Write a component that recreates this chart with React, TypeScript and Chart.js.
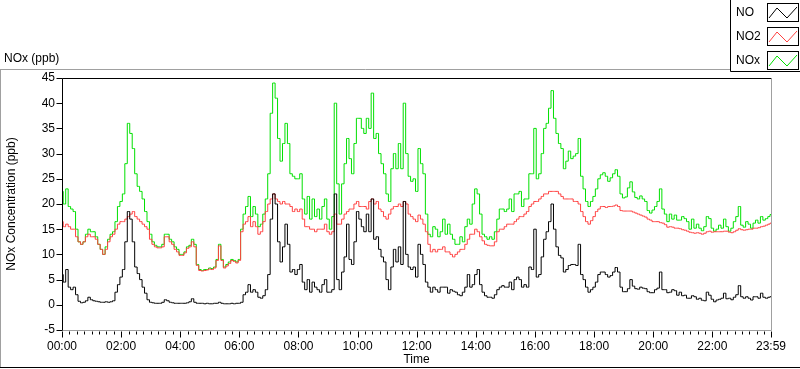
import React, { useEffect, useRef } from "react";
import { Chart, registerables } from "chart.js";
Chart.register(...registerables);

// 5-minute samples, 00:00 .. 23:55, plus 23:59
const NO: number[] = [
  6, 4.5, 7, 3.5, 3, 3.5, 2, 0.7, 0.4, 0.5, 0.8, 1.5,
  1, 0.8, 0.7, 0.6, 0.5, 0.5, 0.6, 0.5, 0.6, 0.8, 2.5, 4,
  5.5, 7, 12.5, 18.5, 17, 12.5, 7.5, 6.2, 5, 3.5, 2.3, 1,
  0.5, 0.4, 0.3, 0.3, 0.3, 0.5, 1, 0.8, 0.5, 0.4, 0.3, 0.3,
  0.3, 0.3, 0.3, 0.4, 0.6, 1.2, 0.5, 0.3, 0.3, 0.3, 0.2, 0.3,
  0.2, 0.2, 0.3, 0.3, 0.5, 0.3, 0.2, 0.2, 0.2, 0.3, 0.2, 0.3,
  0.3, 0.5, 2, 2.5, 4, 2.5, 3, 2.5, 1.5, 1.3, 1.8, 3,
  6, 17, 22, 20, 12.5, 8.5, 11.5, 16, 12, 6.5, 7, 6,
  7,
  8, 4.5, 3, 5, 2.5, 4.5, 3.5, 3, 2.5, 4, 5, 2.5,
  2.5, 3, 22, 5, 3, 6.5, 9.5, 16, 9, 8, 12.5, 18.5,
  17, 15.5, 14.5, 18, 14.5, 21, 13, 13.5, 11, 9.5, 8.5, 5,
  3, 7.5, 11, 8.5, 11.5, 8, 20.5, 10, 7.5, 7, 7.5, 5.5,
  12, 10, 8, 4.5, 3.5, 2.5, 3.5, 3, 2.5, 3.5, 3.5, 3.5,
  2.3, 3, 2.7, 2.5, 2, 1.8, 2.5, 3.5, 6, 3.5, 4, 6,
  7, 4, 2.5, 1.8, 1.5, 1.5, 1.3, 2, 3, 3.5, 3.8, 3.5,
  3.5, 4.5, 3, 5, 5.5, 5, 3.5, 4, 3.5, 7.5, 7, 15,
  5.5, 6, 9.5, 13, 14.5, 16.5, 20, 15, 11.5, 9.8, 9.3, 6.5,
  7, 7.8, 8, 8, 7.8, 12, 6, 5, 3.5, 2.5, 3, 3.5,
  4.5, 6, 6.5, 6.5, 6, 5.5, 5.8, 6.5, 7.4, 6.5, 3.5, 2.6,
  2.6, 3.2, 5, 3.7, 3.2, 3.1, 3.5, 3.3, 3.2, 2.6, 2.4, 2.4,
  3, 3.3, 6.5, 3, 3, 2.4, 2.5, 3, 2.8, 1.9, 2.5, 1.8,
  1.9, 1.3, 1.3, 1.8, 1.6, 1.1, 1.3, 0.9, 0.8, 2.5, 1.9, 1.1,
  0.6, 0.95, 1.1, 1.3, 2.3, 1.2, 1.3, 1, 1.5, 2, 3.8, 1.6,
  1.3, 1.6, 1.3, 0.95, 1.6, 1.6, 1.3, 2.3, 1.5, 1.3, 1.5, 1.6,
];

const NO2: number[] = [
  16.5, 15.5, 16, 15.5, 15, 15, 13.5, 12.5, 12, 12.5, 13.5, 14,
  13.5, 13.5, 13, 12, 11, 10, 11, 12.5, 13.5, 14, 15, 16,
  16.5, 16.5, 17, 17.5, 18, 18.5, 17.5, 17, 16.5, 16, 15.5, 15,
  13, 12, 11.5, 11.3, 11.3, 11.5, 13.5, 13.5, 12.5, 12, 11, 10.5,
  9.8, 9.8, 10.3, 11.2, 11.5, 12.5, 11.5, 7.8, 6.8, 6.7, 6.8, 6.9,
  7.1, 7, 7.3, 8.8, 11.7, 8.8, 7.3, 7.7, 8.2, 8.8, 8.6, 8.3,
  8.8, 14.5, 16, 16.5, 17.5, 15.5, 16.5, 15.5, 14, 14.5, 16.5, 18.5,
  20, 21, 22, 21, 20.5, 20, 20.5, 20, 20, 19.5, 18.5, 19,
  18.5,
  19, 17, 15.5, 15.5, 15, 15, 14.5, 15, 15, 15, 16, 14.5,
  14, 14.5, 18, 16, 16, 17, 18, 18.5, 19, 19, 20, 20.5,
  19.5, 19.5, 19.5, 19, 20.5, 21, 20, 20.5, 19, 18.5, 17.5, 17,
  18, 19, 19.5, 19.5, 20, 19.5, 20.5, 20, 18, 17.5, 17, 16.5,
  17.8, 17, 16, 14.5, 12, 10.5, 11, 10.5, 11, 11, 11.5, 10.5,
  10.5, 10, 9.5, 10, 10.5, 11, 11, 12, 13, 14, 14, 15,
  14.5, 13.5, 12.7, 12, 11.8, 11.7, 11.7, 12.5, 14.5, 15, 15, 15.5,
  16, 16, 16, 16.5, 17, 17.5, 17.5, 18, 18.5, 19.5, 20, 20.5,
  20.5, 21, 21.5, 22, 22, 22.5, 22.5, 22.5, 22.5, 22, 21.5, 21,
  21, 21, 21, 20.5, 20.5, 20, 18.5, 17.5, 16.5, 16, 16.7, 17.5,
  18.5, 19, 19.5, 19.5, 19.3, 19.5, 19.5, 19.6, 19.8, 19.5, 18.7, 18.6,
  18.6, 18.6, 18.6, 18.4, 18.2, 18, 17.8, 17.6, 17.4, 17, 16.8, 16.5,
  16.5, 16.5, 16.3, 16.2, 15.9, 15.4, 15.5, 15.4, 15.2, 15.2, 15.1, 14.9,
  14.8, 14.6, 14.4, 14.3, 14.2, 14.3, 14.2, 14, 14.2, 14.5, 14.6, 14.4,
  14.5, 14.5, 14.5, 14.5, 14.6, 14.6, 14.4, 14.3, 14.5, 14.8, 15.1, 14.9,
  14.8, 14.9, 15, 15, 15.2, 15.2, 15.3, 15.5, 15.6, 15.8, 16, 16.2,
];

const NOX: number[] = [
  22.5, 20, 23, 19.5, 19, 18.5, 15, 12.5, 12, 12.5, 14, 15,
  14.5, 14.5, 13.5, 12, 11, 10, 11.5, 13, 14, 14.5, 16.5, 19.5,
  20.5, 22, 28, 36, 34, 31, 26, 23.5, 22.5, 21, 18.5, 16.5,
  14, 12.5, 11.8, 11.5, 11.5, 12, 14, 14, 13, 12.5, 11.5, 11,
  10, 10, 10.5, 11.5, 11.8, 13, 12, 8, 7, 6.8, 7, 7,
  7.3, 7.2, 7.5, 9, 12, 9, 7.5, 8, 8.5, 9, 8.8, 8.5,
  9, 15, 18, 19.5, 21.5, 17.5, 19.5, 18, 15.5, 16, 18, 21,
  26, 38, 44, 41, 33, 28.5, 32, 36, 32, 26, 25.5, 25,
  25,
  26, 21, 18, 21.5, 17, 21, 17.5, 19, 17, 19.5, 21, 17,
  15, 17.5, 40, 24, 18, 24, 28, 33, 29, 26, 32, 37,
  37, 35, 34, 37, 35, 42, 33, 34, 30, 28, 26, 22,
  20.5, 27, 30, 27, 32, 27, 40, 30, 25.5, 24.5, 25, 22.5,
  31, 28, 26, 18, 14, 13.5, 15.5, 15, 13.5, 14.5, 17, 14,
  16, 14, 13, 12, 12, 13.5, 12.5, 15.5, 17, 16, 20, 23,
  22, 18, 14, 13.5, 13, 13.5, 13, 14.5, 17, 19, 19, 18.5,
  19, 21, 18.5, 22, 22, 22.5, 19.5, 21, 21, 26, 26, 35,
  25, 26, 30, 35, 36, 39, 42.5, 37, 34, 32, 31, 27,
  28.5, 30.5, 29, 29.5, 30, 33, 25.5, 23, 20.5, 19.5, 20.5, 21.5,
  23, 25, 25.8, 26.2, 25.5, 24.5, 25.2, 26, 26.8, 25.5, 22, 21.2,
  21.4, 23.2, 24.4, 22.4, 21.3, 21, 21.6, 21, 20.5, 18.7, 18.2, 18.8,
  19.5, 20.5, 23, 19, 18, 16.5, 18, 17, 17.8, 16.8, 16.8, 17.5,
  17.1, 16.5, 15, 17, 15.2, 16, 15.2, 14.7, 15.5, 17.5, 17.1, 15.2,
  14.6, 15, 15.8, 15.2, 17, 15.5, 14.6, 15.2, 16.5, 17.5, 19.5, 15.8,
  15.4, 16.5, 16, 15.2, 16.2, 16.8, 16.2, 17.5, 16.8, 17.1, 17.5, 17.9,
];

const SERIES_NAMES = ["NO", "NO2", "NOx"];
const SERIES_COLORS = ["#000000", "#ff4040", "#00e000"];
const Y_MIN = -5;
const Y_MAX = 45;
const Y_STEP = 5;
const X_MAX = 1439; // 23:59 in minutes
const X_MINOR_STEP = 15;
const X_LABEL_STEP = 120;

const MINUTES = NO.map((_, i) => Math.min(i * 5, X_MAX));
const X_TICKS: number[] = [];
for (let m = 0; m < X_MAX; m += X_MINOR_STEP) X_TICKS.push(m);
X_TICKS.push(X_MAX);

const FONT = "'Liberation Sans', Arial, sans-serif";

function fmt(v: number): string {
  const h = Math.floor(v / 60);
  const m = v % 60;
  return String(h).padStart(2, "0") + ":" + String(m).padStart(2, "0");
}

const overlay = {
  id: "overlay",
  beforeDraw(chart: any) {
    const ctx = chart.ctx;
    ctx.save();
    ctx.fillStyle = "#fff";
    ctx.fillRect(0, 0, chart.width, chart.height);
    ctx.restore();
  },
  afterDraw(chart: any) {
    const ctx = chart.ctx as CanvasRenderingContext2D;
    const a = chart.chartArea;
    const xs = chart.scales.x;
    const ys = chart.scales.y;
    ctx.save();
    ctx.lineWidth = 1;

    // outer frame
    ctx.strokeStyle = "#a0a0a0";
    ctx.beginPath();
    ctx.moveTo(0, 69.5);
    ctx.lineTo(731, 69.5);
    ctx.moveTo(0.5, 69);
    ctx.lineTo(0.5, 368);
    ctx.stroke();
    ctx.strokeStyle = "#000";
    ctx.beginPath();
    ctx.moveTo(0, 367.5);
    ctx.lineTo(800, 367.5);
    ctx.stroke();

    // plot frame
    const L = Math.round(a.left) + 0.5;
    const R = Math.round(a.right) + 0.5;
    const T = Math.round(a.top) + 0.5;
    const B = Math.round(a.bottom) + 0.5;
    ctx.strokeStyle = "#000";
    ctx.beginPath();
    ctx.moveTo(L, B);
    ctx.lineTo(L, T);
    ctx.lineTo(R, T);
    ctx.stroke();
    ctx.strokeStyle = "#a0a0a0";
    ctx.beginPath();
    ctx.moveTo(L, B);
    ctx.lineTo(R, B);
    ctx.lineTo(R, T);
    ctx.stroke();

    // tick marks
    ctx.strokeStyle = "#000";
    ctx.beginPath();
    for (let v = Y_MIN; v <= Y_MAX; v += Y_STEP) {
      const y = Math.round(ys.getPixelForValue(v)) + 0.5;
      ctx.moveTo(L - 6, y);
      ctx.lineTo(L, y);
    }
    for (const v of X_TICKS) {
      const x = Math.round(xs.getPixelForValue(v)) + 0.5;
      const major = v % X_LABEL_STEP === 0 || v === X_MAX;
      ctx.moveTo(x, B + 1);
      ctx.lineTo(x, B + (major ? 7 : 4));
    }
    ctx.stroke();

    // titles
    ctx.fillStyle = "#000";
    ctx.font = `12px ${FONT}`;
    ctx.textBaseline = "middle";
    ctx.textAlign = "left";
    ctx.fillText("NOx (ppb)", 4, 59);
    ctx.textAlign = "center";
    ctx.fillText("Time", (a.left + a.right) / 2, 360);
    ctx.save();
    ctx.translate(12, (a.top + a.bottom) / 2);
    ctx.rotate(-Math.PI / 2);
    ctx.fillText("NOx Concentration (ppb)", 0, 0);
    ctx.restore();

    // legend
    ctx.fillStyle = "#fff";
    ctx.fillRect(731, 0, 69, 71);
    ctx.strokeStyle = "#000";
    ctx.beginPath();
    ctx.moveTo(730.5, 0);
    ctx.lineTo(730.5, 71.5);
    ctx.lineTo(800, 71.5);
    ctx.stroke();
    SERIES_NAMES.forEach((name, i) => {
      const y0 = 3 + i * 24;
      ctx.fillStyle = "#000";
      ctx.textAlign = "left";
      ctx.textBaseline = "middle";
      ctx.font = `12px ${FONT}`;
      ctx.fillText(name, 736, y0 + 10);
      ctx.strokeStyle = "#000";
      ctx.strokeRect(767.5, y0 + 0.5, 31, 18);
      ctx.strokeStyle = SERIES_COLORS[i];
      ctx.beginPath();
      ctx.moveTo(769, y0 + 15);
      ctx.lineTo(777, y0 + 5);
      ctx.lineTo(787, y0 + 15);
      ctx.lineTo(797, y0 + 4);
      ctx.stroke();
    });
    ctx.restore();
  },
};

export default function App() {
  const ref = useRef<HTMLCanvasElement>(null);
  useEffect(() => {
    const seriesData = [NO, NO2, NOX];
    const chart = new Chart(ref.current as HTMLCanvasElement, {
      type: "line",
      data: {
        datasets: seriesData.map((arr, i) => ({
          label: SERIES_NAMES[i],
          data: arr.map((v, j) => ({ x: MINUTES[j], y: v })),
          borderColor: SERIES_COLORS[i],
          backgroundColor: SERIES_COLORS[i],
          borderWidth: 1,
          pointRadius: 0,
          tension: 0,
          stepped: "middle",
          fill: false,
        })),
      },
      options: {
        responsive: false,
        animation: false,
        devicePixelRatio: 1,
        layout: { padding: { left: 0, top: 78, right: 29, bottom: 0 } },
        plugins: { legend: { display: false }, tooltip: { enabled: false } },
        scales: {
          x: {
            type: "linear",
            min: 0,
            max: X_MAX,
            grid: { display: false, drawTicks: false },
            border: { display: false },
            afterFit: (s: any) => {
              s.height = 39;
            },
            afterBuildTicks: (s: any) => {
              s.ticks = X_TICKS.map((v) => ({ value: v }));
            },
            ticks: {
              autoSkip: false,
              maxRotation: 0,
              minRotation: 0,
              padding: 9,
              color: "#000",
              font: { family: FONT, size: 12 },
              callback: (v: any) => {
                const n = Number(v);
                return n % X_LABEL_STEP === 0 || n === X_MAX ? fmt(n) : "";
              },
            },
          },
          y: {
            type: "linear",
            min: Y_MIN,
            max: Y_MAX,
            grid: { display: false, drawTicks: false },
            border: { display: false },
            afterFit: (s: any) => {
              s.width = 62;
            },
            ticks: {
              stepSize: Y_STEP,
              padding: 7,
              color: "#000",
              font: { family: FONT, size: 12 },
            },
          },
        },
      },
      plugins: [overlay],
    } as any);
    return () => chart.destroy();
  }, []);
  return (
    <div style={{ position: "fixed", left: 0, top: 0, width: 800, height: 369, background: "#fff" }}>
      <canvas ref={ref} width={800} height={369} style={{ display: "block", width: 800, height: 369 }} />
    </div>
  );
}
